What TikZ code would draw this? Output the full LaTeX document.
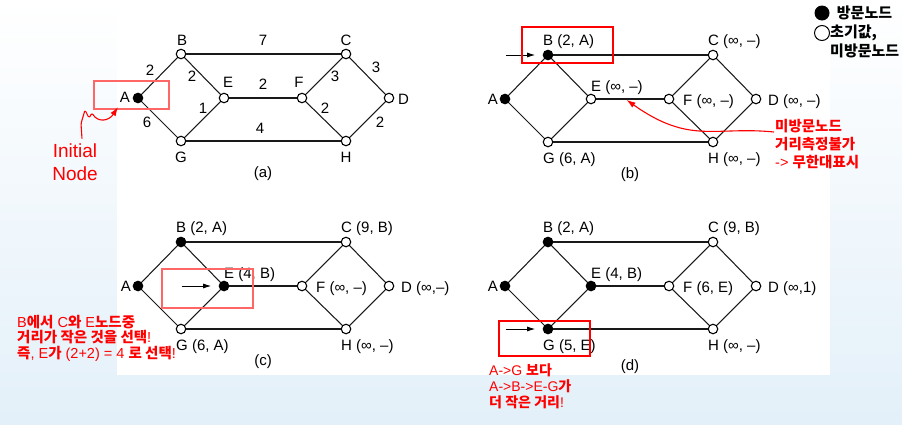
\documentclass[tikz,border=0pt]{standalone}
\usepackage{fontspec}
\setmainfont{Liberation Sans}
\newfontfamily\kr{Noto Sans CJK KR}
\usetikzlibrary{arrows.meta,positioning,calc}
\newcommand{\hb}[1]{{\kr\bfseries #1}}
\definecolor{slide}{HTML}{E3F0F9}
\begin{document}
\begin{tikzpicture}[x=1pt, y=-1pt,
    vtx/.style={circle, draw=black, line width=1.1pt, inner sep=0pt, minimum size=9.5pt},
    hole/.style={vtx, fill=white},
    dot/.style={vtx, fill=black},
    edge/.style={line width=1.05pt, black!90},
    tag/.style={inner sep=0pt, font=\fontsize{15}{17}\selectfont},
    wt/.style={tag},
    pointer/.style={-{Latex[length=8pt,width=5pt]}, line width=0.9pt, shorten >=7.5pt},
    hilite/.style={draw=red, line width=1.2pt},
    note/.style={text=red, inner sep=0pt, align=left, font=\fontsize{14.5}{18}\selectfont},
    remark/.style={-{Latex[length=9pt,width=6pt]}, red, line width=1.1pt},
    keytxt/.style={inner sep=0pt, align=left, font=\fontsize{15}{19}\selectfont\kr\bfseries}
  ]
  % slide background
  \shade[top color=white, bottom color=slide] (0,0) rectangle (902,424);
  \fill[white] (117,0) rectangle (830,375);
  \useasboundingbox (0,0) rectangle (902,424);

  % the four stages of the graph; \o is the order in which a vertex gets visited
  \foreach \p/\k/\ox/\oy/\cy in {a/1/138/98/76, b/2/505/99/76, c/3/138/286/76, d/4/505/286/81}{
    \begin{scope}[shift={(\ox,\oy)}]
      \foreach \v/\x/\y/\o in {A/0/0/1, B/43/-44/2, E/86/0/3, F/164/0/9,
                               C/208/-44/9, D/251/0/9, G/43/43/4, H/208/43/9}{
        \ifnum\o>\k\relax \def\st{hole}\else \def\st{dot}\fi
        \node[\st] (\p\v) at (\x,\y) {};
      }
      \foreach \u/\w in {A/B, A/G, B/E, E/G, B/C, E/F, G/H, F/C, F/H, C/D, H/D}
        \draw[edge] (\p\u) -- (\p\w);
      \node[tag] (cap\p) at (125,\cy) {(\p)};
    \end{scope}
  }

  % (a) names and weights
  \node[tag, anchor=base east, xshift=-8pt, yshift=-4pt] at (aA) {A};
  \node[tag, anchor=base, xshift=1pt, yshift=9pt] at (aB) {B};
  \node[tag, anchor=base, yshift=9pt] at (aC) {C};
  \node[tag, anchor=base, xshift=4pt, yshift=11pt] at (aE) {E};
  \node[tag, anchor=base, xshift=-3pt, yshift=11pt] at (aF) {F};
  \node[tag, anchor=base west, xshift=9pt, yshift=-6pt] at (aD) {D};
  \node[tag, anchor=base, yshift=-21pt] at (aG) {G};
  \node[tag, anchor=base, yshift=-21pt] at (aH) {H};
  \begin{scope}[shift={(aA)}]
    \foreach \x/\y/\w in {12/-28/2, 54/-22/2, 125/-58/7, 125/-14/2, 197/-22/3, 238/-31/3,
                          9/24/6, 65/10/1, 122/30/4, 187/10/2, 242/24/2}
      \node[wt] at (\x,\y) {\w};
  \end{scope}

  % (b)-(d) names with (distance, predecessor)
  \foreach \p/\tb/\tc/\te/\tf/\td/\tg/\th in {
      b/{(2, A)}/{(∞, –)}/{(∞, –)}/{(∞, –)}/{(∞, –)}/{(6, A)}/{(∞, –)},
      c/{(2, A)}/{(9, B)}/{(4, B)}/{(∞, –)}/{(∞,–)}/{(6, A)}/{(∞, –)},
      d/{(2, A)}/{(9, B)}/{(4, B)}/{(6, E)}/{(∞,1)}/{(5, E)}/{(∞, –)}}{
    \node[tag, anchor=base east, xshift=-7pt, yshift=-5pt] at (\p A) {A};
    \node[tag, anchor=base west, xshift=-5pt, yshift=10pt] at (\p B) {B \tb};
    \node[tag, anchor=base west, xshift=-5pt, yshift=10pt] at (\p C) {C \tc};
    \node[tag, anchor=base west, yshift=8pt] at (\p E) {E \te};
    \node[tag, anchor=base west, xshift=14pt, yshift=-6pt] at (\p F) {F \tf};
    \node[tag, anchor=base west, xshift=12pt, yshift=-6pt] at (\p D) {D \td};
    \node[tag, anchor=base west, xshift=-5pt, yshift=-21pt] at (\p G) {G \tg};
    \node[tag, anchor=base west, xshift=-5pt, yshift=-21pt] at (\p H) {H \th};
  }

  % newly chosen vertex
  \coordinate (bIn) at ([xshift=-42pt]bB.center);
  \coordinate (cIn) at ([xshift=-42pt]cE.center);
  \coordinate (dIn) at ([xshift=-42pt]dG.center);
  \draw[pointer] (bIn) -- (bB);
  \draw[pointer] (cIn) -- (cE);
  \draw[pointer] (dIn) -- (dG);

  % red highlights
  \draw[hilite, red!60] (94,81) rectangle (169,109);
  \draw[hilite] (522,27) rectangle (613,63);
  \draw[hilite, red!60] (162,269) rectangle (253,308);
  \draw[hilite] (499,321) rectangle (590,356);

  % notes
  \node[note, align=center, font=\fontsize{19}{22.5}\selectfont] (initNote) at (75,162) {Initial\\Node};
  \coordinate (initTip) at (118,107);
  \draw[remark, rounded corners=1.5pt] ([xshift=7pt,yshift=5pt]initNote.north) -- ++(-1,-15)
    -- (85,110) -- (89,118) -- (92,113) .. controls (98,123) and (109,121) .. (initTip);

  \node[note, anchor=north west] (bNote) at (775,119)
    {\hb{미방문노드}\\\hb{거리측정불가}\\-> \hb{무한대표시}};
  \coordinate (bMiss) at ($(bE)!0.44!(bF)$);
  \draw[remark, shorten >=1.5pt] ([xshift=-1pt,yshift=-13pt]bNote.north west)
    .. controls (715,126) and (690,145) .. (bMiss);

  \node[note, anchor=west, font=\fontsize{14.5}{15.5}\selectfont] (cNote) at (17,338)
    {B\hb{에서} C\hb{와} E\hb{노드중}\\\hb{거리가 작은 것을 선택}!\\\hb{즉}, E\hb{가} (2+2) = 4 \hb{로 선택}!};

  \node[note, anchor=west, font=\fontsize{14}{16}\selectfont] (dNote) at (489,386)
    {A->G \hb{보다}\\A->B->E-G\hb{가}\\\hb{더 작은 거리}!};

  % legend
  \node[circle, fill=black, minimum size=15pt, inner sep=0pt] (keySeen) at (822,13) {};
  \node[keytxt, right=7pt of keySeen] (keySeenTxt) {방문노드};
  \node[circle, draw=black, line width=1pt, minimum size=15pt, inner sep=0pt] (keyNew) at (822,33) {};
  \node[keytxt, anchor=north west] (keyNewTxt) at (830,25) {초기값,\\미방문노드};
\end{tikzpicture}
\end{document}
